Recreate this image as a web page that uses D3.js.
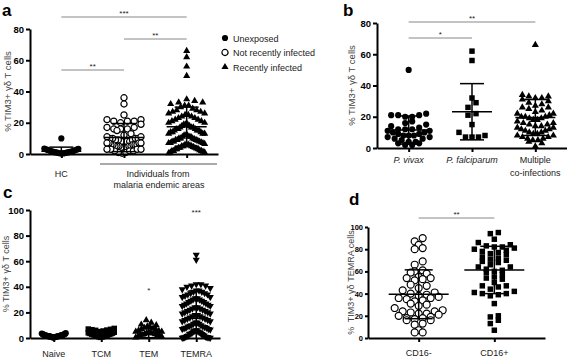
<!DOCTYPE html>
<html>
<head>
<meta charset="utf-8">
<script src="https://cdn.jsdelivr.net/npm/d3@7"></script>
<style>
  body { margin: 0; background: #fff; }
  svg { font-family: "Liberation Sans", Arial, sans-serif; }
  .tick text { font-weight: bold; fill: #000; }
  .domain, .tick line { stroke: #000; stroke-width: 2; }
  .ttl { fill: #444; }
  .cat { font-size: 9px; fill: #222; }
  .sig { font-size: 8px; fill: #222; }
  .plab { font-size: 17px; font-weight: bold; fill: #000; }
</style>
</head>
<body>
<svg width="567" height="358"></svg>
<script>
// ---- panel a
const aCats = ['Unexposed', 'Not recently infected', 'Recently infected'];
const aUnexposed = [10, 3.5, 3.3, 3, 2.8, 2.6, 2.4, 2.2, 2, 1.8, 1.6, 1.5, 1.4, 1.2, 1, 1, 0.9, 0.8, 0.6, 0.5, 0.4, 0.3];
const aNotRecent = [36, 32, 25, 22, 22, 21, 21, 21, 20, 19, 17, 17, 16, 16, 16, 15, 13, 12, 11, 11, 10, 10, 10, 10,
  9, 9, 9, 8, 8, 8, 8, 7, 7, 7, 7, 6, 6, 6, 6, 6, 5, 5, 5, 5, 5, 4, 4, 4, 4, 3, 3, 3, 3, 2, 2, 2, 1, 1, 0.5];
const aRecent = [66, 62, 56, 50,
  35, 34, 33, 33, 32, 31, 31, 30, 29, 28, 28, 27, 27, 26, 26, 25, 25, 24, 24,
  23, 23, 22, 22, 21, 21, 20, 20, 19, 19, 19, 18, 18, 17, 17, 17, 16, 16, 16, 15, 15, 15, 14,
  14, 14, 13, 13, 13, 12, 12, 12, 11, 11, 11, 10, 10, 10, 9.5, 9, 9, 9, 8.5, 8, 8, 8, 7.5, 7,
  7, 7, 6.5, 6, 6, 6, 5.5, 5, 5, 5, 4.5, 4, 4, 4, 3.5, 3, 3, 3, 2.5, 2, 2, 2, 1.5, 1, 1, 0.5];
const aMean = [1.8, 10.5, 17.5];
const aSd = [2.6, 9, 12.5];
const aTicks = [0, 20, 40, 60, 80];

// ---- panel b
const bCats = ['P. vivax', 'P. falciparum', 'Multiple co-infections'];
const bVivax = [50, 22, 21, 21, 21, 20, 20, 17, 16, 15, 14, 13, 12, 12, 12, 11, 11, 10, 10, 9, 9, 8, 8, 8,
  7, 7, 6, 6, 5, 4, 4, 3, 3, 2, 2];
const bFalciparum = [62, 56, 32, 29, 26, 22, 21, 15, 10, 7, 7, 7, 8];
const bMultiple = [66, 34, 33, 33, 32, 32, 31, 30, 29, 28, 27, 26, 26, 25, 24, 23, 22, 22, 21, 20, 20, 20,
  19, 19, 18, 18, 17, 16, 16, 15, 15, 14, 14, 13, 13, 12, 12, 11, 11, 10, 10, 9, 9, 8, 8, 7, 7, 6, 6, 5, 5, 4, 3, 1];
const bMean = [11.5, 23.2, 19.5];
const bSd = [9, 18, 11.5];
const bTicks = [0, 20, 40, 60, 80];

// ---- panel c
const cCats = ['Naive', 'TCM', 'TEM', 'TEMRA'];
const cNaive = [0.3, 0.5, 0.6, 0.8, 0.9, 1, 1, 1.1, 1.2, 1.3, 1.4, 1.5, 1.5, 1.6, 1.7, 1.8, 1.9, 2, 2.1, 2.2,
  2.3, 2.5, 2.6, 2.8, 3, 3.2, 3.5, 3.8];
const cTcm = [7.5, 7, 6.8, 6.5, 6.2, 6, 5.5, 5, 4.5, 4, 3.8, 3.5, 3.2, 3, 2.8, 2.5, 2.2, 2, 1.8, 1.5, 1.2, 1, 0.8, 0.5];
const cTem = [14, 12, 10.5, 10, 9, 8.5, 8, 7.5, 7, 6.5, 6, 5.5, 5, 5, 4.5, 4, 4, 3.5, 3, 3, 2.5, 2, 2, 1.5, 1, 1, 0.5];
const cTemra = [65, 61,
  42, 42, 41, 41, 40, 39, 38, 37, 37, 36, 36, 35, 35, 34, 34, 33,
  32, 32, 31, 31, 30, 30, 29, 29, 28, 28, 27, 27, 26, 26, 25, 25, 24, 24, 23, 23, 22,
  22, 21, 21, 20, 20, 19, 19, 18, 18, 17, 17, 16, 16, 15, 15, 14, 14, 13, 13, 12, 12, 11, 11,
  10, 10, 9.5, 9, 9, 8.5, 8, 8, 7.5, 7, 7, 6.5, 6, 6, 5.5, 5, 5, 4.5, 4, 4, 3.5, 3, 3, 2.5,
  2, 2, 1.5, 1, 1, 0.8, 0.5, 0.5, 0.3, 0.2, 0.1, 0.1];
const cMean = [1.5, 3, 4, 15.3];
const cSd = [1, 2, 3.8, 21.5];
const cTicks = [0, 20, 40, 60, 80, 100];

// ---- panel d
const dCats = ['CD16-', 'CD16+'];
const dNeg = [90, 87, 84, 81, 80, 69, 66, 61, 60, 59, 58, 55, 54, 54, 53, 52, 48, 47, 45, 43, 41, 40, 39, 38,
  37, 36, 36, 35, 34, 33, 31, 30, 29, 27, 25, 24, 24, 23, 22, 22, 21, 20, 19, 18, 18, 17, 16, 16, 13, 12, 7, 5, 5];
const dPos = [95, 94, 89, 86, 84, 83, 82, 82, 81, 80, 79, 78, 77, 76, 75, 73, 72, 71, 70, 69, 68, 66, 64, 64,
  62, 61, 60, 59, 57, 55, 54, 53, 50, 47, 47, 46, 44, 42, 41, 40, 40, 39, 38, 31, 20, 19, 16, 13, 7];
const dMean = [39.4, 61.3];
const dSd = [22, 21.3];
const dTicks = [0, 20, 40, 60, 80, 100];

const svg = d3.select('svg');

// graphpad-like scatter: bin by height, spread each row from the centre out
const swarm = (vals, y, cx, o) => {
  const y0 = y(0);
  const rows = d3.groups(vals.map(v => ({ v, py: y(v) })), d => Math.floor((y0 - d.py) / o.bin));
  const pts = [];
  rows.forEach(([, row]) => {
    row.sort((p, q) => o.tree ? q.v - p.v : p.v - q.v);
    const n = row.length;
    const step = n > 1 ? Math.min(o.step, o.maxW / (n - 1)) : 0;
    row.forEach((p, i) => {
      const k = n % 2
        ? Math.ceil(i / 2) * (i % 2 ? 1 : -1)
        : (Math.floor(i / 2) + 0.5) * (i % 2 ? 1 : -1);
      pts.push({ x: cx + k * step, y: p.py });
    });
  });
  return pts;
};

const shapes = {
  dot: { type: d3.symbolCircle, size: 30, fill: '#000', rot: 0 },
  ring: { type: d3.symbolCircle, size: 30, fill: '#fff', rot: 0 },
  bigRing: { type: d3.symbolCircle, size: 38, fill: '#fff', rot: 0 },
  square: { type: d3.symbolSquare, size: 30, fill: '#000', rot: 0 },
  tri: { type: d3.symbolTriangle, size: 22, fill: '#000', rot: 0 },
  triDown: { type: d3.symbolTriangle, size: 22, fill: '#000', rot: 180 },
};

const mark = (g, shape, x, y) => {
  const s = shapes[shape];
  g.append('path')
    .attr('d', d3.symbol(s.type, s.size)())
    .attr('transform', `translate(${x},${y}) rotate(${s.rot})`)
    .attr('fill', s.fill)
    .attr('stroke', s.fill === '#fff' ? '#000' : 'none')
    .attr('stroke-width', 1.2);
};

const drawPanel = (p) => {
  const g = svg.append('g');
  const x = d3.scalePoint().domain(p.cats).range(p.xr).padding(p.pad);
  const y = d3.scaleLinear().domain([0, p.ymax]).range(p.yr);

  p.groups.forEach((grp, i) => {
    const cx = x(p.cats[i]);
    swarm(grp.values, y, cx, grp.opt).forEach(pt => mark(g, grp.shape, pt.x, pt.y));
  });

  // mean and SD
  p.cats.forEach((c, i) => {
    const cx = x(c);
    const lo = Math.max(0, p.mean[i] - p.sd[i]);
    const hi = p.mean[i] + p.sd[i];
    const ln = (x1, y1, x2, y2) => g.append('line')
      .attr('x1', x1).attr('y1', y1).attr('x2', x2).attr('y2', y2)
      .attr('stroke', '#000').attr('stroke-width', 1.5);
    ln(cx - p.mw, y(p.mean[i]), cx + p.mw, y(p.mean[i]));
    ln(cx, y(lo), cx, y(hi));
    ln(cx - p.cw, y(hi), cx + p.cw, y(hi));
    if (p.mean[i] - p.sd[i] > 0) ln(cx - p.cw, y(lo), cx + p.cw, y(lo));
  });

  g.append('g')
    .attr('transform', `translate(${p.xr[0]},0)`)
    .call(d3.axisLeft(y).tickValues(p.ticks).tickSize(p.tickLen || 4).tickSizeOuter(0).tickPadding(2))
    .selectAll('text').style('font-size', p.tickFs + 'px');
  g.append('g')
    .attr('transform', `translate(0,${p.yr[0]})`)
    .call(d3.axisBottom(x).tickSize(4).tickSizeOuter(0).tickFormat(''));

  g.append('text')
    .attr('class', 'ttl')
    .style('font-size', p.titleFs + 'px')
    .attr('transform', `translate(${p.titleX},${(p.yr[0] + p.yr[1]) / 2}) rotate(-90)`)
    .attr('text-anchor', 'middle')
    .text(p.title);

  g.append('text').attr('class', 'plab').attr('x', p.lab[1]).attr('y', p.lab[2]).text(p.lab[0]);

  p.sigs.forEach(([c1, c2, ly, txt]) => {
    g.append('line')
      .attr('x1', x(c1)).attr('x2', x(c2)).attr('y1', ly).attr('y2', ly)
      .attr('stroke', '#888').attr('stroke-width', 1);
    g.append('text').attr('class', 'sig')
      .attr('x', (x(c1) + x(c2)) / 2).attr('y', ly - 1)
      .attr('text-anchor', 'middle').text(txt);
  });
  return { g, x, y };
};

// a
const pa = drawPanel({
  cats: aCats, xr: [30, 218], pad: 0.5, ymax: 80, yr: [154, 29], ticks: aTicks, tickFs: 9.5,
  mean: aMean, sd: aSd, mw: 20, cw: 12,
  groups: [
    { values: aUnexposed, shape: 'dot', opt: { bin: 6, step: 6, maxW: 34 } },
    { values: aNotRecent, shape: 'ring', opt: { bin: 6, step: 7, maxW: 34 } },
    { values: aRecent, shape: 'tri', opt: { bin: 10, step: 8, maxW: 36, tree: true } },
  ],
  title: '% TIM3+ \u03b3\u03b4 T cells', titleX: 11, titleFs: 9.5, lab: ['a', 2, 16],
  sigs: [[aCats[0], aCats[2], 17, '***'], [aCats[1], aCats[2], 39, '**'], [aCats[0], aCats[1], 70, '**']],
});
pa.g.append('text').attr('class', 'cat').attr('x', pa.x(aCats[0])).attr('y', 177)
  .attr('text-anchor', 'middle').text('HC');
pa.g.append('line').attr('x1', 100).attr('x2', 217).attr('y1', 164).attr('y2', 164)
  .attr('stroke', '#555').attr('stroke-width', 1);
pa.g.append('text').attr('class', 'cat').attr('x', 158).attr('y', 177)
  .attr('text-anchor', 'middle').text('Individuals from');
pa.g.append('text').attr('class', 'cat').attr('x', 159).attr('y', 188)
  .attr('text-anchor', 'middle').text('malaria endemic areas');
const legendShapes = ['dot', 'ring', 'tri'];
aCats.forEach((c, i) => {
  const ly = 38 + i * 14.5;
  mark(pa.g, legendShapes[i], 225, ly);
  pa.g.append('text').attr('class', 'cat').attr('x', 233).attr('y', ly + 3.5).text(c);
});

// b
const pb = drawPanel({
  cats: bCats, xr: [377, 567], pad: 0.5, ymax: 80, yr: [148, 23], ticks: bTicks, tickFs: 9.5,
  mean: bMean, sd: bSd, mw: 20, cw: 12,
  groups: [
    { values: bVivax, shape: 'dot', opt: { bin: 6, step: 7, maxW: 42 } },
    { values: bFalciparum, shape: 'square', opt: { bin: 10, step: 8, maxW: 26 } },
    { values: bMultiple, shape: 'tri', opt: { bin: 7, step: 6.5, maxW: 36 } },
  ],
  title: '% TIM3+ \u03b3\u03b4 T cells', titleX: 355, titleFs: 9.5, lab: ['b', 343, 16],
  sigs: [[bCats[0], bCats[2], 22, '**'], [bCats[0], bCats[1], 38, '*']],
});
pb.g.append('text').attr('class', 'cat').attr('x', pb.x(bCats[0])).attr('y', 163)
  .attr('text-anchor', 'middle').attr('font-style', 'italic').text('P. vivax');
pb.g.append('text').attr('class', 'cat').attr('x', pb.x(bCats[1])).attr('y', 163)
  .attr('text-anchor', 'middle').attr('font-style', 'italic').text('P. falciparum');
pb.g.append('text').attr('class', 'cat').attr('x', pb.x(bCats[2])).attr('y', 163)
  .attr('text-anchor', 'middle').text('Multiple');
pb.g.append('text').attr('class', 'cat').attr('x', pb.x(bCats[2])).attr('y', 176)
  .attr('text-anchor', 'middle').text('co-infections');

// c
const pc = drawPanel({
  cats: cCats, xr: [30, 220], pad: 0.5, ymax: 100, yr: [338, 210], ticks: cTicks, tickFs: 9.5,
  mean: cMean, sd: cSd, mw: 12, cw: 8,
  groups: [
    { values: cNaive, shape: 'dot', opt: { bin: 6, step: 5, maxW: 24 } },
    { values: cTcm, shape: 'square', opt: { bin: 6, step: 5, maxW: 26 } },
    { values: cTem, shape: 'tri', opt: { bin: 6, step: 5, maxW: 26, tree: true } },
    { values: cTemra, shape: 'triDown', opt: { bin: 8, step: 5, maxW: 28, tree: true } },
  ],
  title: '% TIM3+ \u03b3\u03b4 T cells', titleX: 9, titleFs: 9, lab: ['c', 3, 198],
  sigs: [],
});
cCats.forEach(c => pc.g.append('text').attr('class', 'cat').attr('x', pc.x(c)).attr('y', 357)
  .attr('text-anchor', 'middle').text(c));
pc.g.append('text').attr('class', 'sig').attr('x', pc.x('TEM')).attr('y', 293)
  .attr('text-anchor', 'middle').text('*');
pc.g.append('text').attr('class', 'sig').attr('x', pc.x('TEMRA')).attr('y', 215)
  .attr('text-anchor', 'middle').text('***');

// d
const pd = drawPanel({
  cats: dCats, xr: [368, 545], pad: 0.67, ymax: 100, yr: [338, 227], ticks: dTicks, tickFs: 7.5, tickLen: 3,
  mean: dMean, sd: dSd, mw: 30, cw: 14,
  groups: [
    { values: dNeg, shape: 'bigRing', opt: { bin: 6, step: 8, maxW: 48 } },
    { values: dPos, shape: 'square', opt: { bin: 6, step: 8, maxW: 46 } },
  ],
  title: '%\u2002TIM3+ \u03b3\u03b4 TEMRA cells', titleX: 354, titleFs: 9, lab: ['d', 349, 205],
  sigs: [[dCats[0], dCats[1], 218, '**']],
});
dCats.forEach(c => pd.g.append('text').attr('class', 'cat').attr('x', pd.x(c)).attr('y', 356)
  .attr('text-anchor', 'middle').text(c));
</script>
</body>
</html>
